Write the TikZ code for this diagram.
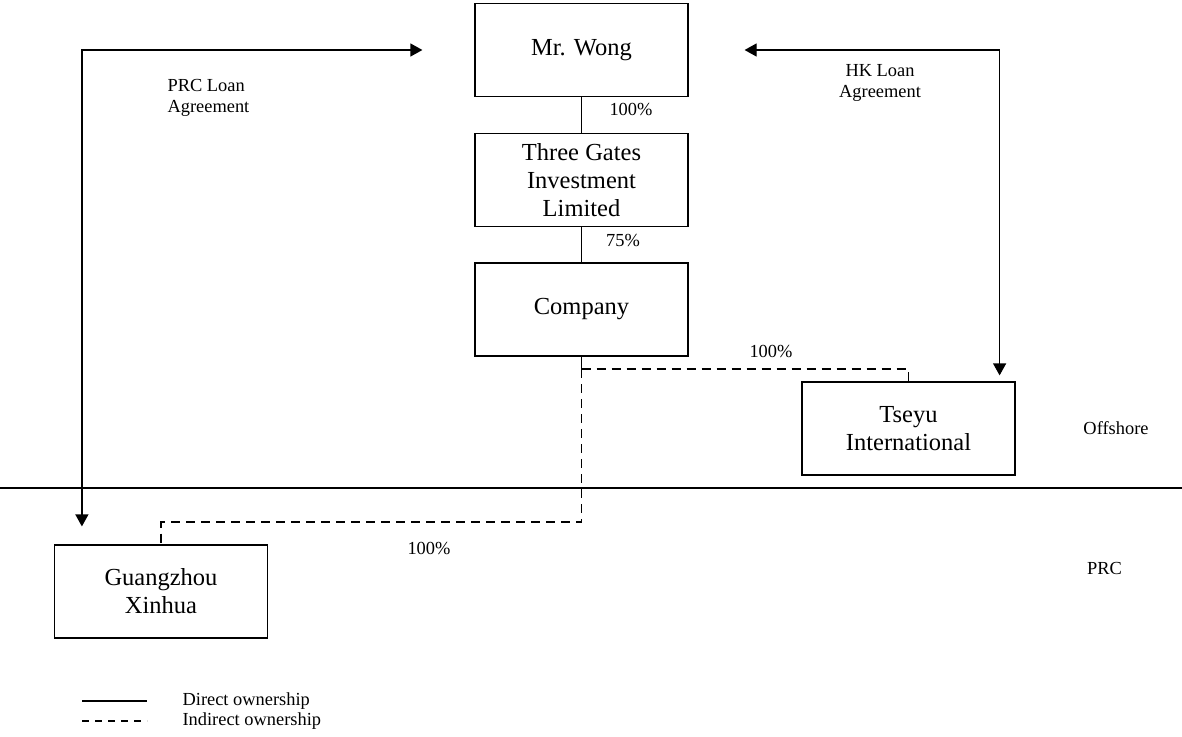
\documentclass[tikz,border=0pt]{standalone}
\usepackage{fontspec}
\setmainfont{Liberation Serif}
\usetikzlibrary{arrows.meta}

\begin{document}
\begin{tikzpicture}[x=1pt,y=-1pt,line width=1.2pt,
  entity/.style={draw,minimum width=213pt,minimum height=93pt,inner sep=2pt,align=center,font=\fontsize{24.5}{28}\selectfont},
  note/.style={inner sep=0pt,font=\fontsize{18.4}{21.5}\selectfont},
  direct/.style={draw},
  indirect/.style={draw,dash pattern=on 9pt off 6pt},
  loan/.style={draw,{Triangle[length=12pt,width=13pt]}-{Triangle[length=12pt,width=13pt]}}]
\path[use as bounding box] (0,0) rectangle (1182,736);
% entities
\node[entity] (wong) at (581.5,50) {Mr. Wong};
\node[entity] (gates) at (581.5,180) {Three Gates\\Investment\\Limited};
\node[entity] (company) at (581.5,309.5) {Company};
\node[entity] (tseyu) at (908.5,428.5) {Tseyu\\International};
\node[entity] (xinhua) at (161,591.5) {Guangzhou\\Xinhua};
% ownership
\draw[direct] (wong) -- (gates);
\draw[direct] (gates) -- (company);
\coordinate (split) at (581.5,369);
\coordinate (turn) at (581.5,522);
\draw[direct] (company) -- (split);
\draw[indirect] (split) -| (tseyu.north);
\draw[indirect] (split) -- (turn) -| (xinhua.north);
\node[note] (pctgates) at (631,110) {100\%};
\node[note] (pctco) at (623,240) {75\%};
\node[note] (pcttseyu) at (771,351) {100\%};
\node[note] (pctxinhua) at (429,548) {100\%};
% loans
\draw[loan] ([xshift=-52pt]wong.west) -| ([shift={(28pt,18pt)}]xinhua.north west);
\draw[loan] ([xshift=56pt]wong.east) -| ([shift={(-16pt,6pt)}]tseyu.north east);
\node[note,anchor=west,align=left] (prcloan) at (167,98) {PRC Loan\\Agreement};
\node[note,align=center] (hkloan) at (880,83) {HK Loan\\Agreement};
% regions
\draw (0,488) -- (1182,488);
\node[note] (offshore) at (1116,428) {Offshore};
\node[note] (prc) at (1104.5,568) {PRC};
% legend
\coordinate (legA) at (82,701);
\coordinate (legB) at (147,701);
\coordinate (legC) at (82,721);
\coordinate (legD) at (147,721);
\draw[direct] (legA) -- (legB);
\draw[indirect,dash pattern=on 7pt off 6pt] (legC) -- (legD);
\node[note,anchor=west] (legdirect) at (182,701) {Direct ownership};
\node[note,anchor=west] (legindirect) at (182,721) {Indirect ownership};
\end{tikzpicture}
\end{document}
